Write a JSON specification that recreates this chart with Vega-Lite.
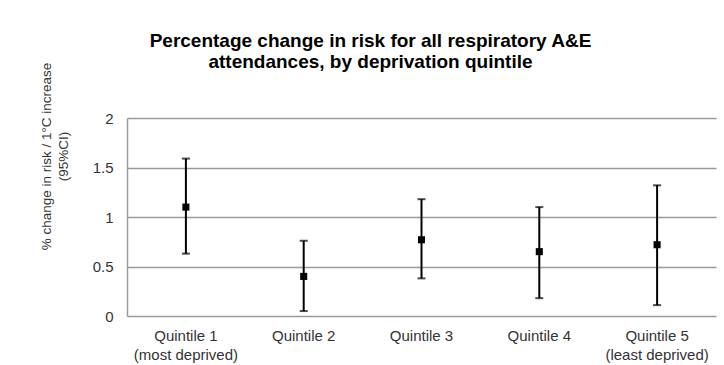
{
  "$schema": "https://vega.github.io/schema/vega-lite/v6.json",
  "width": 589,
  "height": 198,
  "autosize": {"type": "none"},
  "padding": {"left": 127, "top": 118, "right": 8, "bottom": 49},
  "background": "white",
  "title": {
    "text": ["Percentage change in risk for all respiratory A&E", "attendances, by deprivation quintile"],
    "font": "Liberation Sans",
    "fontSize": 19,
    "fontWeight": "bold",
    "color": "#000000",
    "lineHeight": 21,
    "anchor": "middle",
    "frame": "group",
    "dx": -51,
    "offset": -10
  },
  "config": {
    "view": {"stroke": null},
    "font": "Liberation Sans"
  },
  "data": {
    "values": [
      {"q": "Quintile 1|(most deprived)", "est": 1.10, "lo": 0.63, "hi": 1.59},
      {"q": "Quintile 2", "est": 0.40, "lo": 0.05, "hi": 0.76},
      {"q": "Quintile 3", "est": 0.77, "lo": 0.38, "hi": 1.18},
      {"q": "Quintile 4", "est": 0.65, "lo": 0.18, "hi": 1.10},
      {"q": "Quintile 5|(least deprived)", "est": 0.72, "lo": 0.11, "hi": 1.32}
    ]
  },
  "encoding": {
    "x": {
      "field": "q",
      "type": "nominal",
      "sort": null,
      "scale": {"paddingInner": 0, "paddingOuter": 0},
      "axis": {
        "title": null,
        "labelExpr": "split(datum.label, '|')",
        "labelAngle": 0,
        "labelFontSize": 15,
        "labelColor": "#333333",
        "labelLineHeight": 19,
        "labelPadding": 12,
        "ticks": false,
        "domain": false,
        "grid": false
      }
    }
  },
  "layer": [
    {
      "mark": {"type": "rule", "color": "black", "strokeWidth": 2},
      "encoding": {
        "y": {
          "field": "lo",
          "type": "quantitative",
          "scale": {"domain": [0, 2]},
          "axis": {
            "title": ["% change in risk / 1°C increase", "(95%CI)"],
            "titleFontSize": 13.5,
            "titleFontWeight": "normal",
            "titleColor": "#333333",
            "titleLineHeight": 17,
            "titleAngle": -90,
            "titleAlign": "center",
            "titleBaseline": "top",
            "titleX": -88,
            "titleY": 38,
            "values": [0, 0.5, 1, 1.5, 2],
            "format": "~g",
            "labelFontSize": 15,
            "labelColor": "#333333",
            "labelPadding": 14,
            "ticks": false,
            "domainColor": "#9a9a9a",
            "domainWidth": 1.5,
            "grid": true,
            "gridColor": "#9a9a9a",
            "gridWidth": 1.5
          }
        },
        "y2": {"field": "hi"}
      }
    },
    {
      "mark": {"type": "tick", "orient": "horizontal", "color": "black", "size": 8, "thickness": 2},
      "encoding": {"y": {"field": "lo", "type": "quantitative"}}
    },
    {
      "mark": {"type": "tick", "orient": "horizontal", "color": "black", "size": 8, "thickness": 2},
      "encoding": {"y": {"field": "hi", "type": "quantitative"}}
    },
    {
      "mark": {"type": "point", "shape": "square", "filled": true, "color": "black", "size": 50, "opacity": 1},
      "encoding": {"y": {"field": "est", "type": "quantitative"}}
    }
  ]
}
